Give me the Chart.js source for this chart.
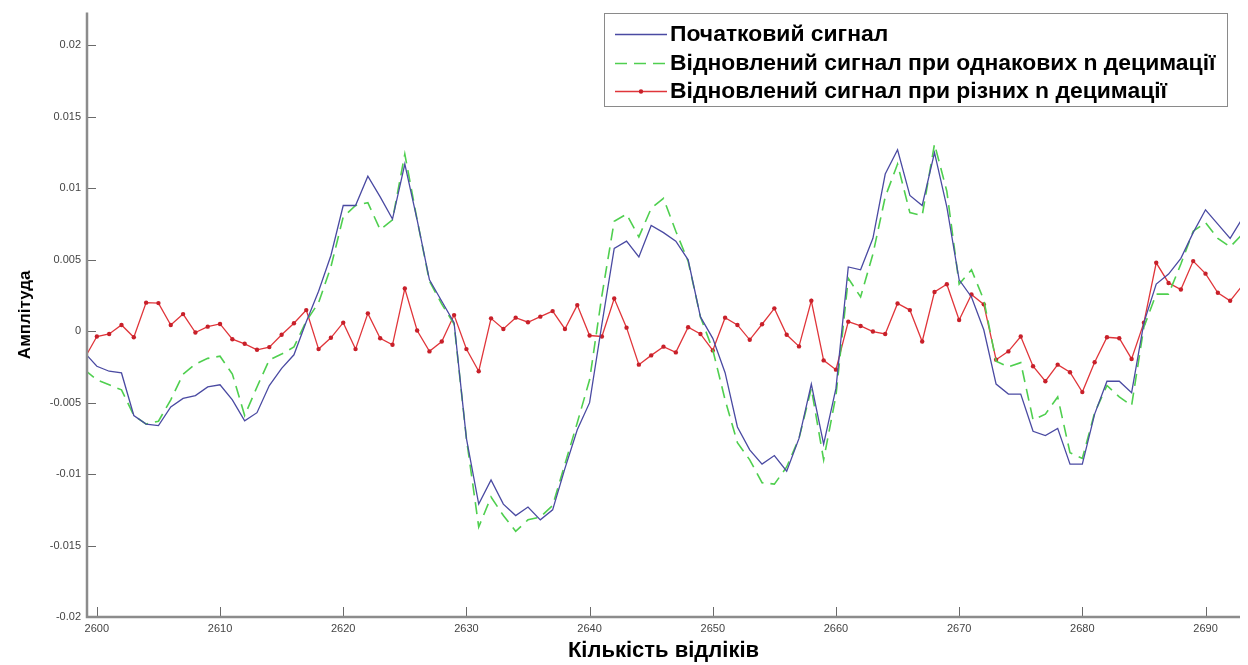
<!DOCTYPE html>
<html>
<head>
<meta charset="utf-8">
<script src="https://cdn.jsdelivr.net/npm/chart.js@4/dist/chart.umd.min.js"></script>
<style>
  html, body { margin: 0; padding: 0; background: #ffffff; }
  #wrap { width: 1248px; height: 665px; }
</style>
</head>
<body>
<div id="wrap"><canvas id="c" width="1248" height="665"></canvas></div>
<script>
// ---- data ----
const samples = [2599,2600,2601,2602,2603,2604,2605,2606,2607,2608,2609,2610,2611,2612,2613,2614,2615,2616,2617,2618,2619,
  2620,2621,2622,2623,2624,2625,2626,2627,2628,2629,2630,2631,2632,2633,2634,2635,2636,2637,2638,2639,
  2640,2641,2642,2643,2644,2645,2646,2647,2648,2649,2650,2651,2652,2653,2654,2655,2656,2657,2658,2659,
  2660,2661,2662,2663,2664,2665,2666,2667,2668,2669,2670,2671,2672,2673,2674,2675,2676,2677,2678,2679,
  2680,2681,2682,2683,2684,2685,2686,2687,2688,2689,2690,2691,2692,2693];

const originalSignal = [-0.0015,-0.00245,-0.0028,-0.00292,-0.0059,-0.0065,-0.0066,-0.0053,-0.0047,-0.0045,-0.0039,
  -0.00375,-0.0048,-0.00627,-0.0057,-0.0038,-0.0026,-0.00165,0.00067,0.0028,0.0053,
  0.0088,0.0088,0.01085,0.0094,0.00785,0.0117,0.0078,0.0036,0.0021,0.0006,
  -0.0075,-0.0121,-0.0104,-0.0121,-0.0129,-0.0123,-0.0132,-0.0125,-0.0096,-0.0069,
  -0.0050,0.0005,0.0058,0.0063,0.0052,0.0074,0.0069,0.0063,0.0050,0.0010,
  -0.0005,-0.0029,-0.0067,-0.0083,-0.0093,-0.0087,-0.0098,-0.0075,-0.0037,-0.0079,
  -0.0040,0.0045,0.0043,0.0065,0.0110,0.0127,0.0095,0.0088,0.0125,0.0087,
  0.0036,0.0024,0.0001,-0.0037,-0.0044,-0.0044,-0.0070,-0.0073,-0.0068,-0.0093,
  -0.0093,-0.0058,-0.0035,-0.0035,-0.0043,0.0006,0.0033,0.0040,0.0051,0.0069,
  0.0085,0.0075,0.0065,0.0079];

const restoredEqual = [-0.0027,-0.0034,-0.00375,-0.0041,-0.0059,-0.0065,-0.0063,-0.0048,-0.0030,-0.0023,-0.0019,
  -0.00175,-0.0030,-0.0059,-0.0039,-0.0020,-0.0016,-0.0011,0.0007,0.0020,0.0045,
  0.0080,0.0088,0.0090,0.0071,0.0078,0.0124,0.0078,0.0035,0.0019,0.0005,
  -0.0075,-0.0137,-0.0116,-0.0129,-0.0140,-0.0132,-0.0130,-0.0122,-0.0093,-0.0064,
  -0.0034,0.0025,0.0077,0.0082,0.0066,0.0086,0.0093,0.0070,0.0049,0.0010,
  -0.0013,-0.0048,-0.0078,-0.0090,-0.0106,-0.0107,-0.0095,-0.0075,-0.0040,-0.0090,
  -0.0045,0.0037,0.0024,0.0054,0.0094,0.0117,0.0083,0.0081,0.0131,0.0098,
  0.0033,0.0043,0.0022,-0.0021,-0.0025,-0.0022,-0.0062,-0.0058,-0.0046,-0.0085,
  -0.0089,-0.0057,-0.0038,-0.0046,-0.0052,0.0003,0.0026,0.0026,0.0047,0.0070,
  0.0076,0.0065,0.0059,0.0068];

const restoredDifferent = [-0.0019,-0.00037,-0.00019,0.00044,-0.00042,0.0020,0.00197,0.00044,0.0012,-0.00009,0.00032,
  0.00051,-0.00056,-0.00088,-0.0013,-0.00111,-0.00025,0.00056,0.00148,-0.00125,-0.00046,
  0.0006,-0.00125,0.00125,-0.00049,-0.00095,0.00299,0.00005,-0.00141,-0.00072,0.00113,
  -0.00125,-0.0028,0.0009,0.00016,0.00095,0.00063,0.00102,0.00141,0.00016,0.00183,
  -0.0003,-0.00037,0.00229,0.00025,-0.00234,-0.00169,-0.00108,-0.00148,0.00028,-0.00019,
  -0.00134,0.00095,0.00044,-0.0006,0.00049,0.0016,-0.00025,-0.00106,0.00213,-0.00204,
  -0.00269,0.00067,0.00037,-0.00002,-0.00019,0.00194,0.00148,-0.00072,0.00275,0.00329,
  0.00079,0.00257,0.00188,-0.00199,-0.00141,-0.00037,-0.00245,-0.0035,-0.00234,-0.00287,
  -0.00426,-0.00217,-0.00042,-0.00049,-0.00194,0.0006,0.00479,0.00338,0.00292,0.00491,
  0.00403,0.00269,0.00213,0.0032];

const xTickValues = [2600,2610,2620,2630,2640,2650,2660,2670,2680,2690];
const yTickValues = [0.02,0.015,0.01,0.005,0,-0.005,-0.01,-0.015,-0.02];
const yTickLabels = ['0.02','0.015','0.01','0.005','0','-0.005','-0.01','-0.015','-0.02'];

const seriesLabels = ['Початковий сигнал',
  'Відновлений сигнал при однакових n децимації',
  'Відновлений сигнал при різних n децимації'];

const pts = arr => samples.map((s, i) => ({x: s, y: arr[i]}));

const COL_BLUE = '#4a4aa2';
const COL_GREEN = '#4fcf4f';
const COL_RED = '#e0353a';

const axesPlugin = {
  id: 'matlabAxes',
  afterDatasetsDraw(chart) {
    const {ctx, chartArea: a, scales: {x, y}} = chart;
    ctx.save();
    ctx.strokeStyle = '#6a6a6a';
    ctx.lineWidth = 1;
    ctx.beginPath();
    yTickValues.forEach(v => {
      const py = Math.round(y.getPixelForValue(v)) + 0.5;
      ctx.moveTo(a.left, py); ctx.lineTo(a.left + 9, py);
    });
    xTickValues.forEach(v => {
      const px = Math.round(x.getPixelForValue(v)) + 0.5;
      ctx.moveTo(px, a.bottom); ctx.lineTo(px, a.bottom - 10);
    });
    ctx.stroke();
    ctx.strokeStyle = '#8c8c8c';
    ctx.lineWidth = 2.5;
    ctx.beginPath();
    ctx.moveTo(a.left, a.top);
    ctx.lineTo(a.left, a.bottom);
    ctx.lineTo(a.right, a.bottom);
    ctx.stroke();
    ctx.restore();
  },
  afterDraw(chart) {
    const {ctx} = chart;
    ctx.save();
    const bx = 604.5, by = 13.5, bw = 623, bh = 93;
    ctx.fillStyle = '#ffffff';
    ctx.fillRect(bx, by, bw, bh);
    ctx.strokeStyle = '#8a8a8a';
    ctx.lineWidth = 1;
    ctx.strokeRect(bx, by, bw, bh);
    const rows = [34, 63, 91];
    chart.data.datasets.forEach((ds, i) => {
      const yy = rows[i] + 0.5;
      ctx.strokeStyle = ds.borderColor;
      ctx.lineWidth = ds.borderWidth;
      ctx.setLineDash(ds.borderDash || []);
      ctx.beginPath();
      ctx.moveTo(615, yy); ctx.lineTo(667, yy);
      ctx.stroke();
      ctx.setLineDash([]);
      if (ds.pointRadius > 0) {
        ctx.fillStyle = ds.pointBackgroundColor;
        ctx.beginPath();
        ctx.arc(641, yy, ds.pointRadius, 0, Math.PI * 2);
        ctx.fill();
      }
      ctx.fillStyle = '#000000';
      ctx.font = 'bold 22.9px "Liberation Sans", Arial, sans-serif';
      ctx.textBaseline = 'middle';
      ctx.textAlign = 'left';
      ctx.fillText(ds.label, 670, rows[i] + 1);
    });
    ctx.restore();
  }
};

new Chart(document.getElementById('c'), {
  type: 'line',
  data: {
    datasets: [
      { label: seriesLabels[0], data: pts(originalSignal), borderColor: COL_BLUE, borderWidth: 1.3,
        pointRadius: 0, tension: 0 },
      { label: seriesLabels[1], data: pts(restoredEqual), borderColor: COL_GREEN, borderWidth: 1.6,
        borderDash: [12, 7], pointRadius: 0, tension: 0 },
      { label: seriesLabels[2], data: pts(restoredDifferent), borderColor: COL_RED, borderWidth: 1.3,
        pointRadius: 2.2, pointBackgroundColor: '#c8202a', pointBorderWidth: 0, tension: 0 }
    ]
  },
  plugins: [axesPlugin],
  options: {
    responsive: false,
    animation: false,
    layout: { padding: { top: 7, right: 8, left: 0, bottom: 0 } },
    plugins: { legend: { display: false }, tooltip: { enabled: false } },
    scales: {
      x: {
        type: 'linear', min: 2599.2, max: 2692.8,
        grid: { display: false, drawTicks: false }, border: { display: false },
        afterBuildTicks: s => { s.ticks = xTickValues.map(v => ({value: v})); },
        afterFit: s => { s.height = 48; },
        ticks: { padding: 5, color: '#444', font: { size: 11, family: '"Liberation Sans", Arial, sans-serif' },
          maxRotation: 0, callback: v => String(v) },
        title: { display: true, text: 'Кількість відліків', color: '#000',
          font: { size: 22, weight: 'bold', family: '"Liberation Sans", Arial, sans-serif' },
          padding: { top: 0, bottom: 1 } }
      },
      y: {
        type: 'linear', min: -0.02, max: 0.0223,
        grid: { display: false, drawTicks: false }, border: { display: false },
        afterBuildTicks: s => { s.ticks = yTickValues.map(v => ({value: v})); },
        afterFit: s => { s.width = 87; },
        ticks: { padding: 6, color: '#444', font: { size: 11, family: '"Liberation Sans", Arial, sans-serif' },
          callback: v => yTickLabels[yTickValues.indexOf(v)] },
        title: { display: true, text: 'Амплітуда', color: '#000',
          font: { size: 17, weight: 'bold', family: '"Liberation Sans", Arial, sans-serif' },
          padding: { top: 15, bottom: 0 } }
      }
    }
  }
});
</script>
</body>
</html>
